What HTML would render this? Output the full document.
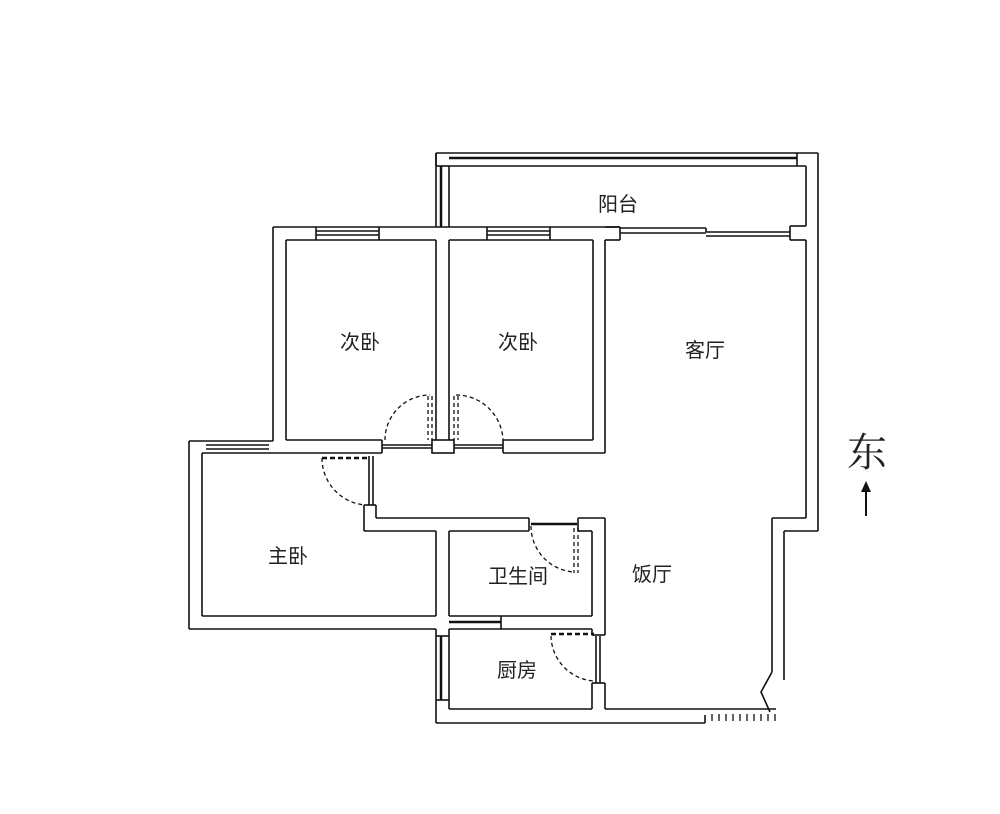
<!DOCTYPE html>
<html><head><meta charset="utf-8"><style>
html,body{margin:0;padding:0;background:#fff;width:1000px;height:814px;overflow:hidden}
text{font-family:"Liberation Sans","Noto Sans CJK SC",sans-serif;fill:#222}
</style></head><body>
<svg width="1000" height="814" viewBox="0 0 1000 814" xmlns="http://www.w3.org/2000/svg">
<g fill="none" stroke="#111" stroke-width="1.6">
<!-- balcony -->
<line x1="436" y1="153" x2="818" y2="153"/>
<line x1="449" y1="158" x2="797" y2="158" stroke-width="2.5"/>
<line x1="449" y1="166" x2="806" y2="166"/>
<line x1="436" y1="153" x2="436" y2="227"/>
<line x1="441" y1="166" x2="441" y2="227" stroke-width="2.5"/>
<line x1="449" y1="166" x2="449" y2="227"/>
<line x1="436" y1="153" x2="436" y2="166"/>
<line x1="436" y1="166" x2="449" y2="166"/>
<line x1="797" y1="153" x2="797" y2="166"/>
<!-- right outer wall -->
<line x1="818" y1="153" x2="818" y2="531"/>
<line x1="806" y1="166" x2="806" y2="226"/>
<line x1="806" y1="240" x2="806" y2="518"/>
<line x1="790" y1="226" x2="806" y2="226"/>
<line x1="790" y1="226" x2="790" y2="240"/>
<line x1="790" y1="240" x2="806" y2="240"/>
<line x1="772" y1="518" x2="806" y2="518"/>
<line x1="784" y1="531" x2="818" y2="531"/>
<line x1="772" y1="518" x2="772" y2="672"/>
<line x1="784" y1="531" x2="784" y2="680"/>
<polyline points="772,672 761,692 770,712"/>
<!-- living top window -->
<line x1="620" y1="228" x2="706" y2="228"/>
<line x1="620" y1="233" x2="706" y2="233"/>
<line x1="706" y1="228" x2="706" y2="232"/>
<line x1="706" y1="232" x2="790" y2="232"/>
<line x1="706" y1="236" x2="790" y2="236"/>
<!-- bedrooms -->
<line x1="273" y1="227" x2="620" y2="227"/>
<line x1="605" y1="227" x2="620" y2="227"/>
<line x1="620" y1="227" x2="620" y2="240"/>
<line x1="605" y1="240" x2="620" y2="240"/>
<line x1="273" y1="227" x2="273" y2="441"/>
<line x1="286" y1="240" x2="436" y2="240"/>
<line x1="449" y1="240" x2="593" y2="240"/>
<line x1="286" y1="240" x2="286" y2="440"/>
<line x1="436" y1="240" x2="436" y2="440"/>
<line x1="449" y1="240" x2="449" y2="440"/>
<line x1="593" y1="240" x2="593" y2="440"/>
<line x1="605" y1="240" x2="605" y2="453"/>
<line x1="316" y1="231" x2="379" y2="231"/><line x1="316" y1="235" x2="379" y2="235"/>
<line x1="316" y1="227" x2="316" y2="240"/><line x1="379" y1="227" x2="379" y2="240"/>
<line x1="487" y1="231" x2="550" y2="231"/><line x1="487" y1="235" x2="550" y2="235"/>
<line x1="487" y1="227" x2="487" y2="240"/><line x1="550" y1="227" x2="550" y2="240"/>
<line x1="286" y1="440" x2="382" y2="440"/>
<line x1="382" y1="440" x2="382" y2="453"/>
<line x1="503" y1="440" x2="593" y2="440"/>
<line x1="503" y1="440" x2="503" y2="453"/>
<line x1="503" y1="453" x2="605" y2="453"/>
<rect x="432" y="440" width="22" height="13"/>
<line x1="382" y1="445" x2="432" y2="445"/><line x1="382" y1="448" x2="432" y2="448"/>
<line x1="454" y1="445" x2="503" y2="445"/><line x1="454" y1="448" x2="503" y2="448"/>
<!-- bedroom doors -->
<g stroke-dasharray="4,3" stroke-width="1.3">
<path d="M385,440 A45,45 0 0 1 430,395"/>
<path d="M456,395 A47,47 0 0 1 503,440"/>
<line x1="428" y1="396" x2="428" y2="440"/><line x1="432" y1="396" x2="432" y2="440"/>
<line x1="454" y1="396" x2="454" y2="440"/><line x1="458" y1="396" x2="458" y2="440"/>
</g>
<!-- master bedroom -->
<line x1="189" y1="441" x2="273" y2="441"/>
<line x1="273" y1="441" x2="273" y2="441"/>
<line x1="189" y1="441" x2="189" y2="629"/>
<line x1="202" y1="453" x2="382" y2="453"/>
<line x1="206" y1="445" x2="269" y2="445"/><line x1="206" y1="449" x2="269" y2="449"/>
<line x1="202" y1="453" x2="202" y2="616"/>
<line x1="202" y1="616" x2="436" y2="616"/>
<line x1="189" y1="629" x2="436" y2="629"/>
<line x1="436" y1="531" x2="436" y2="616"/>
<line x1="364" y1="531" x2="436" y2="531"/>
<line x1="364" y1="505" x2="364" y2="531"/>
<line x1="364" y1="505" x2="376" y2="505"/>
<line x1="376" y1="505" x2="376" y2="518"/>
<line x1="376" y1="518" x2="529" y2="518"/>
<line x1="449" y1="531" x2="529" y2="531"/>
<line x1="529" y1="518" x2="529" y2="531"/>
<line x1="369" y1="456" x2="369" y2="505"/><line x1="373" y1="456" x2="373" y2="505"/>
<path d="M322,458 A47,47 0 0 0 365,505" stroke-dasharray="4,3" stroke-width="1.3"/>
<line x1="322" y1="458" x2="368" y2="458" stroke-dasharray="5,3" stroke-width="2.5"/>
<!-- bathroom -->
<line x1="449" y1="531" x2="449" y2="616"/>
<line x1="449" y1="616" x2="592" y2="616"/>
<line x1="578" y1="518" x2="605" y2="518"/>
<line x1="578" y1="518" x2="578" y2="531"/>
<line x1="578" y1="531" x2="592" y2="531"/>
<line x1="592" y1="531" x2="592" y2="616"/>
<line x1="605" y1="518" x2="605" y2="635"/>
<line x1="531" y1="524" x2="577" y2="524" stroke-width="2.5"/>
<g stroke-dasharray="4,3" stroke-width="1.3">
<line x1="574" y1="528" x2="574" y2="573"/><line x1="578" y1="528" x2="578" y2="573"/>
<path d="M531,526 A46,46 0 0 0 574,572"/>
</g>
<!-- kitchen -->
<line x1="436" y1="629" x2="436" y2="723"/>
<line x1="449" y1="629" x2="449" y2="709"/>
<line x1="441" y1="636" x2="441" y2="700" stroke-width="2.5"/>
<line x1="436" y1="636" x2="449" y2="636"/><line x1="436" y1="700" x2="449" y2="700"/>
<line x1="449" y1="622" x2="501" y2="622" stroke-width="2.5"/>
<line x1="501" y1="616" x2="501" y2="629"/>
<line x1="449" y1="629" x2="592" y2="629"/>
<line x1="592" y1="629" x2="592" y2="635"/>
<line x1="592" y1="635" x2="605" y2="635"/>
<line x1="592" y1="683" x2="605" y2="683"/>
<line x1="592" y1="683" x2="592" y2="709"/>
<line x1="605" y1="683" x2="605" y2="709"/>
<line x1="449" y1="709" x2="592" y2="709"/>
<line x1="436" y1="723" x2="705" y2="723"/>
<line x1="605" y1="709" x2="776" y2="709"/>
<line x1="705" y1="715" x2="705" y2="723"/>
<line x1="596" y1="636" x2="596" y2="683"/><line x1="600" y1="636" x2="600" y2="683"/>
<line x1="551" y1="634" x2="594" y2="634" stroke-dasharray="5,3" stroke-width="2.5"/>
<path d="M551,636 A46,46 0 0 0 594,681" stroke-dasharray="4,3" stroke-width="1.3"/>
<g stroke-width="1.3">
<line x1="712" y1="714" x2="712" y2="721"/><line x1="719" y1="714" x2="719" y2="721"/>
<line x1="726" y1="714" x2="726" y2="721"/><line x1="733" y1="714" x2="733" y2="721"/>
<line x1="740" y1="714" x2="740" y2="721"/><line x1="747" y1="714" x2="747" y2="721"/>
<line x1="754" y1="714" x2="754" y2="721"/><line x1="761" y1="714" x2="761" y2="721"/>
<line x1="768" y1="714" x2="768" y2="721"/><line x1="775" y1="714" x2="775" y2="721"/>
</g>
<!-- arrow -->
<line x1="866" y1="488" x2="866" y2="516" stroke-width="2"/>
</g>
<polygon points="866,481 861,492 871,492" fill="#111"/>
<g font-size="20">
<text x="598" y="211">阳台</text>
<text x="340" y="349">次卧</text>
<text x="498" y="349">次卧</text>
<text x="685" y="357">客厅</text>
<text x="268" y="563">主卧</text>
<text x="488" y="583">卫生间</text>
<text x="632" y="581">饭厅</text>
<text x="497" y="677">厨房</text>
</g>
<text x="847" y="466" font-size="40" style='font-family:"Liberation Serif","Noto Serif CJK SC",serif'>东</text>
</svg>
</body></html>
